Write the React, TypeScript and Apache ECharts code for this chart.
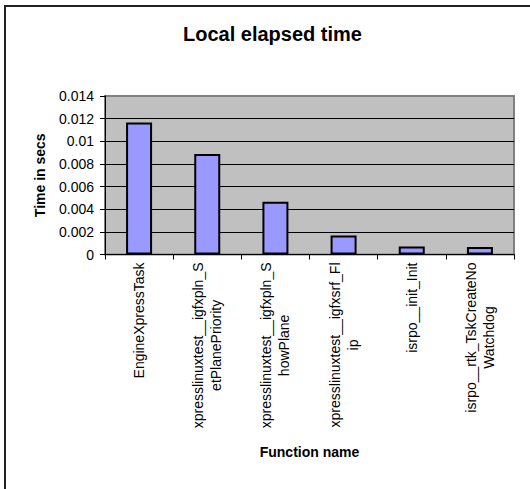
import React, { useEffect, useRef } from "react";
import * as echarts from "echarts";

const categories: string[] = [
  "EngineXpressTask",
  "xpresslinuxtest__igfxpln_S\netPlanePriority",
  "xpresslinuxtest__igfxpln_S\nhowPlane",
  "xpresslinuxtest__igfxsrf_Fl\nip",
  "isrpo__init_Init",
  "isrpo__rtk_TskCreateNo\nWatchdog",
];
const elapsed: number[] = [0.01167, 0.00888, 0.00466, 0.00168, 0.00071, 0.00066];
const yMin = 0;
const yMax = 0.014;
const yStep = 0.002;

const FONT = "Arial, 'Liberation Sans', sans-serif";

export default function App() {
  const ref = useRef<HTMLDivElement>(null);
  useEffect(() => {
    if (!ref.current) return;
    const chart = echarts.init(ref.current, undefined, { renderer: "svg" });
    chart.setOption({
      animation: false,
      backgroundColor: "#ffffff",
      title: {
        text: "Local elapsed time",
        left: 178,
        top: 19,
        textStyle: { fontFamily: FONT, fontSize: 20, fontWeight: "bold", color: "#000" },
      },
      graphic: [
        {
          type: "rect",
          shape: { x: 5, y: 6, width: 700, height: 700 },
          style: { fill: "none", stroke: "#222", lineWidth: 2 },
          silent: true,
          z: 0,
        },
      ],
      grid: {
        left: 105,
        top: 96,
        right: 16,
        bottom: 234.5,
        show: true,
        backgroundColor: "#C0C0C0",
        borderColor: "#808080",
        borderWidth: 2,
      },
      xAxis: {
        type: "category",
        data: categories,
        name: "Function name",
        nameLocation: "middle",
        nameGap: 190,
        nameTextStyle: { fontFamily: FONT, fontSize: 14, fontWeight: "bold", color: "#000" },
        axisLine: { show: true, lineStyle: { color: "#000", width: 1 } },
        axisTick: { show: true, alignWithLabel: false, length: 5, lineStyle: { color: "#000" } },
        axisLabel: {
          interval: 0,
          rotate: 90,
          margin: 8,
          color: "#000",
          fontFamily: FONT,
          fontSize: 14,
          formatter: (v: string) =>
            v
              .split("\n")
              .map((l) => `{c|${l}}`)
              .join("\n"),
          rich: {
            c: { align: "center", fontFamily: FONT, fontSize: 14, lineHeight: 18, color: "#000" },
          },
        },
      },
      yAxis: {
        type: "value",
        min: yMin,
        max: yMax,
        interval: yStep,
        name: "Time in secs",
        nameLocation: "middle",
        nameGap: 58,
        nameRotate: 90,
        nameTextStyle: { fontFamily: FONT, fontSize: 14, fontWeight: "bold", color: "#000" },
        axisLine: { show: true, lineStyle: { color: "#000", width: 1 } },
        axisTick: { show: true, length: 5, lineStyle: { color: "#000" } },
        axisLabel: {
          margin: 11,
          color: "#000",
          fontFamily: FONT,
          fontSize: 14,
          formatter: (v: number) => String(+v.toFixed(3)),
        },
        splitLine: { show: true, showMaxLine: false, lineStyle: { color: "#000", width: 1 } },
      },
      series: [
        {
          type: "bar",
          data: elapsed,
          barWidth: 26,
          itemStyle: { color: "#9999FF", borderColor: "#000", borderWidth: 2 },
        },
      ],
    });
    return () => chart.dispose();
  }, []);
  return (
    <div
      ref={ref}
      style={{ position: "fixed", left: 0, top: 0, width: 530, height: 489 }}
    />
  );
}
